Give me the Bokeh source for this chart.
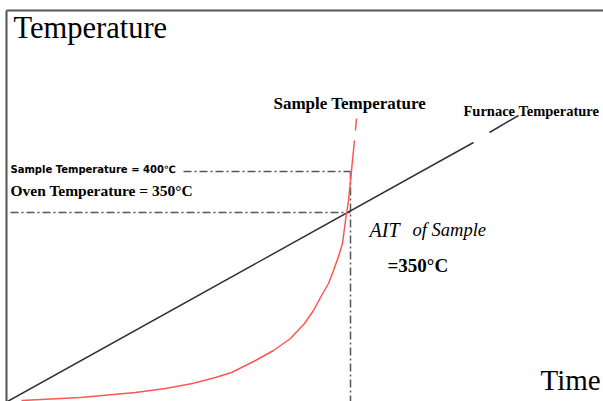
from bokeh.plotting import figure
from bokeh.models import Range1d
from bokeh.core.properties import value
from bokeh.embed import file_html
from bokeh.resources import INLINE

# Schematic data (arbitrary units: time from origin, temperature from origin)
furnace_time_a = [0, 466]
furnace_temp_a = [0, 259]
furnace_time_b = [482, 511]
furnace_temp_b = [269, 286]

sample_time = [14, 73, 128, 158, 185, 208, 224, 248, 266, 283, 297, 306, 313, 321, 326, 331, 335, 338, 341, 343, 345, 347]
sample_temp = [1, 4, 9, 13, 18, 24, 29, 41, 51, 63, 78, 91, 104, 118, 131, 145, 158, 181, 201, 221, 241, 261]
sample_tail_time = [348, 349]
sample_tail_temp = [271, 283]

ait_time = 343
ait_temp = 189        # oven temperature level (350 °C)
sample_level = 230    # sample temperature level (400 °C)

frame_top = 391
x_lo, x_hi = -7, 596
y_lo, y_hi = 0, 401

p = figure(width=603, height=401, x_range=Range1d(x_lo, x_hi), y_range=Range1d(y_lo, y_hi),
           output_backend="svg", toolbar_location=None, min_border=0,
           x_axis_type=None, y_axis_type=None)
p.grid.visible = False
p.outline_line_color = None
p.background_fill_color = "white"
p.border_fill_color = "white"

# frame (left and top lines)
p.line([-1, -1], [0, frame_top], line_color="#555555", line_width=2)
p.line([-1, x_hi], [frame_top, frame_top], line_color="#555555", line_width=2)

# reference dash-dot lines
dash = "8 3 2 3"
p.line([176, ait_time], [sample_level, sample_level], line_color="#555555", line_width=1.5, line_dash=dash)
p.line([3, ait_time], [ait_temp, ait_temp], line_color="#555555", line_width=1.5, line_dash=dash)
p.line([ait_time, ait_time], [sample_level, 0], line_color="#555555", line_width=1.5, line_dash=dash)

# furnace temperature
p.line(furnace_time_a, furnace_temp_a, line_color="#333333", line_width=1.5)
p.line(furnace_time_b, furnace_temp_b, line_color="#333333", line_width=1.5)

# sample temperature
p.line(sample_time, sample_temp, line_color="#ff5555", line_width=1.5)
p.line(sample_tail_time, sample_tail_temp, line_color="#ff5555", line_width=1.5)

serif = value("Liberation Serif")

p.text(x=[6], y=[y_hi - 10], text=["Temperature"], text_font=serif, text_font_size="30.5px",
       text_baseline="top", text_color="#000000")
p.text(x=[533], y=[6], text=["Time"], text_font=serif, text_font_size="29px",
       text_baseline="bottom", text_color="#000000")
p.text(x=[266], y=[298], text=["Sample Temperature"], text_font=serif, text_font_style="bold",
       text_font_size="17px", text_baseline="middle", text_color="#000000")
p.text(x=[456], y=[291], text=["Furnace Temperature"], text_font=serif, text_font_style="bold",
       text_font_size="14.5px", text_baseline="middle", text_color="#000000")
p.text(x=[3], y=[232], text=["Sample Temperature = 400\u2103"], text_font=value("DejaVu Sans"),
       text_font_style="bold", text_font_size="10px", text_baseline="middle", text_color="#000000")
p.text(x=[3], y=[211], text=["Oven Temperature = 350\u00b0C"], text_font=serif, text_font_style="bold",
       text_font_size="15.5px", text_baseline="middle", text_color="#000000")
p.text(x=[362], y=[172], text=["AIT"], text_font=serif, text_font_style="italic",
       text_font_size="20px", text_baseline="middle", text_color="#000000")
p.text(x=[405], y=[172], text=["of Sample"], text_font=serif, text_font_style="italic",
       text_font_size="18.5px", text_baseline="middle", text_color="#000000")
p.text(x=[380], y=[136], text=["=350\u00b0C"], text_font=serif, text_font_style="bold",
       text_font_size="19px", text_baseline="middle", text_color="#000000")

open("out.html", "w").write(file_html(p, INLINE))
